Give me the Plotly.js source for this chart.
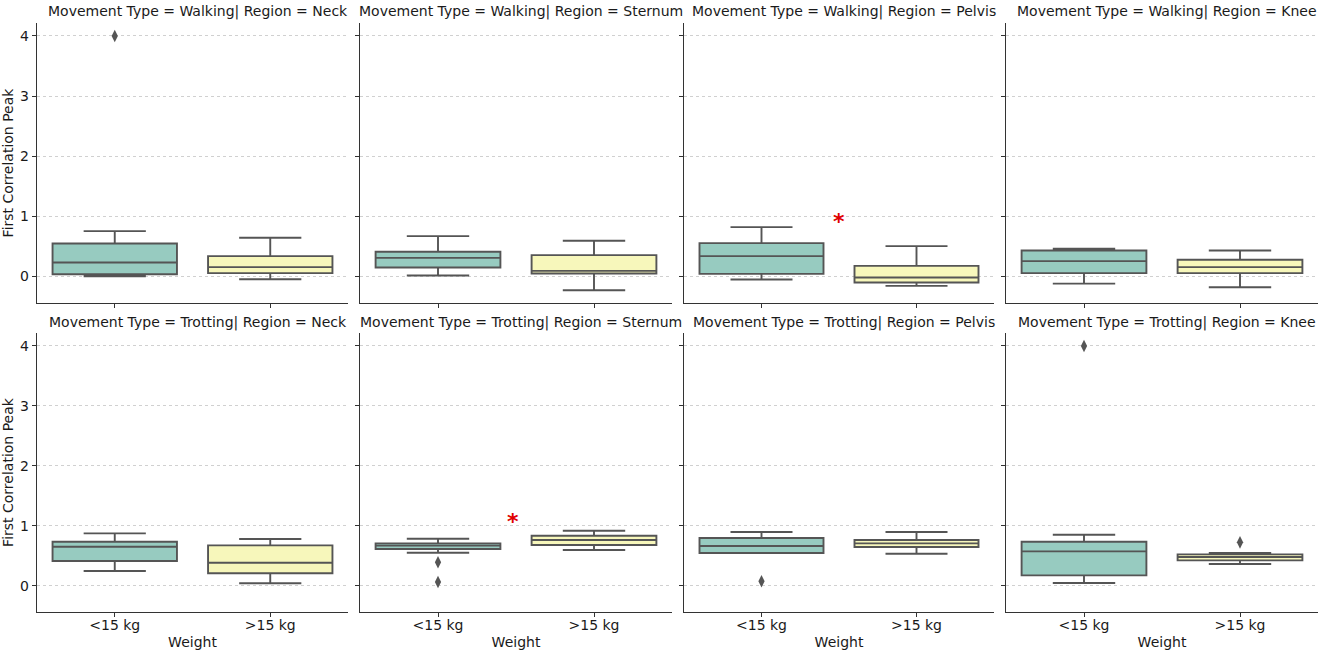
<!DOCTYPE html>
<html>
<head>
<meta charset="utf-8">
<script src="https://cdn.plot.ly/plotly-3.0.1.min.js"></script>
<style>html,body{margin:0;padding:0;background:#fff;}#chart{width:1325px;height:653px;}</style>
</head>
<body>
<div id="chart"></div>
<script>
// ---- data ----
const weights = ['<15 kg', '>15 kg'];
const movements = ['Walking', 'Trotting'];
const regions = ['Neck', 'Sternum', 'Pelvis', 'Knee'];
// panel order: Walking Neck, Sternum, Pelvis, Knee, Trotting Neck, Sternum, Pelvis, Knee
const lightLo  = [0.005, 0.017, -0.05, -0.117, 0.244, 0.55, 0.544, 0.044];
const lightQ1  = [0.039, 0.15, 0.044, 0.056, 0.411, 0.611, 0.544, 0.172];
const lightMed = [0.233, 0.311, 0.339, 0.256, 0.65, 0.667, 0.661, 0.572];
const lightQ3  = [0.55, 0.411, 0.556, 0.433, 0.733, 0.706, 0.794, 0.733];
const lightHi  = [0.756, 0.672, 0.822, 0.461, 0.872, 0.783, 0.894, 0.85];
const heavyLo  = [-0.044, -0.228, -0.156, -0.178, 0.039, 0.594, 0.533, 0.361];
const heavyQ1  = [0.056, 0.05, -0.1, 0.056, 0.206, 0.678, 0.644, 0.422];
const heavyMed = [0.156, 0.094, -0.017, 0.156, 0.383, 0.761, 0.706, 0.478];
const heavyQ3  = [0.339, 0.356, 0.178, 0.278, 0.672, 0.833, 0.761, 0.522];
const heavyHi  = [0.644, 0.594, 0.506, 0.433, 0.778, 0.917, 0.894, 0.544];
const lightOutliers = [[4.0], [], [], [], [], [0.389, 0.061], [0.072], [4.0]];
const heavyOutliers = [[], [], [], [], [], [], [], [0.722]];
const starPanels = [2, 5];
const starX = [0.5, 0.48];
const starY = [1.0, 1.15];
const yTicks = [0, 1, 2, 3, 4];

// ---- styling ----
const FONT = 'DejaVu Sans, sans-serif';
const TXT = '#1a1a1a';
const FS = 14;
const lightFill = '#97cbc0';
const heavyFill = '#f7f7bb';
const boxLine = '#555555';
const W = 1325, H = 653;
const mL = 37, mR = 7, mT = 23, mB = 41;
const pw = W - mL - mR, ph = H - mT - mB;
const xPix = [[37, 348], [360, 672], [684, 994], [1006, 1318]];
const yPix = [[23, 303], [333, 612]];

const traces = [];
const layout = {
  width: W, height: H,
  margin: {l: mL, r: mR, t: mT, b: mB},
  paper_bgcolor: '#fff', plot_bgcolor: '#fff',
  showlegend: false,
  font: {family: FONT, size: FS, color: TXT},
  annotations: []
};

for (let m = 0; m < movements.length; m++) {
  for (let r = 0; r < regions.length; r++) {
    const p = m * regions.length + r;
    const n = p + 1;
    const xa = 'x' + (n === 1 ? '' : n), ya = 'y' + (n === 1 ? '' : n);
    const xd = [(xPix[r][0] - mL) / pw, (xPix[r][1] - mL) / pw];
    const yd = [(H - mB - yPix[m][1]) / ph, (H - mB - yPix[m][0]) / ph];
    layout['xaxis' + (n === 1 ? '' : n)] = {
      domain: xd, anchor: ya, range: [-0.5, 1.5],
      tickvals: [0, 1], ticktext: weights,
      showticklabels: m === 1, ticklabelstandoff: -4,
      ticks: 'outside', ticklen: 4, tickwidth: 1, tickcolor: '#333',
      showline: true, linecolor: '#333', linewidth: 1.3,
      showgrid: false, zeroline: false, fixedrange: true,
      tickfont: {family: FONT, size: FS, color: TXT},
      title: m === 1 ? {text: 'Weight', font: {family: FONT, size: FS, color: TXT}, standoff: 5} : {text: ''}
    };
    layout['yaxis' + (n === 1 ? '' : n)] = {
      domain: yd, anchor: xa, range: [-0.44, 4.216],
      tickvals: yTicks, ticktext: yTicks.map(String),
      showticklabels: r === 0,
      ticks: 'outside', ticklen: 4, tickwidth: 1, tickcolor: '#333',
      showline: true, linecolor: '#333', linewidth: 1.3,
      showgrid: true, gridcolor: '#c4c4c4', gridwidth: 0.8, griddash: 'dot',
      zeroline: false, fixedrange: true,
      tickfont: {family: FONT, size: FS, color: TXT},
      title: r === 0 ? {text: 'First Correlation Peak', font: {family: FONT, size: FS, color: TXT}, standoff: 4} : {text: ''}
    };
    const common = {type: 'box', xaxis: xa, yaxis: ya, width: 0.8, whiskerwidth: 0.5,
      boxpoints: false, hoverinfo: 'skip', line: {color: boxLine, width: 1.9}};
    traces.push(Object.assign({}, common, {
      x: [0], q1: [lightQ1[p]], median: [lightMed[p]], q3: [lightQ3[p]],
      lowerfence: [lightLo[p]], upperfence: [lightHi[p]], fillcolor: lightFill
    }));
    traces.push(Object.assign({}, common, {
      x: [1], q1: [heavyQ1[p]], median: [heavyMed[p]], q3: [heavyQ3[p]],
      lowerfence: [heavyLo[p]], upperfence: [heavyHi[p]], fillcolor: heavyFill
    }));
    const ox = [], oy = [];
    lightOutliers[p].forEach(v => { ox.push(0); oy.push(v); });
    heavyOutliers[p].forEach(v => { ox.push(1); oy.push(v); });
    if (ox.length) {
      traces.push({type: 'scatter', mode: 'markers', x: ox, y: oy, xaxis: xa, yaxis: ya,
        hoverinfo: 'skip', cliponaxis: false,
        marker: {symbol: 'diamond-tall', size: 9, color: boxLine, line: {width: 0}}});
    }
    // facet title
    const cx = (xd[0] + xd[1]) / 2;
    const ty = (H - mB - (yPix[m][0] - 11)) / ph;
    layout.annotations.push({
      xref: 'paper', yref: 'paper', x: cx, y: ty, xanchor: 'center', yanchor: 'middle',
      xshift: 5, showarrow: false,
      text: 'Movement Type = ' + movements[m] + '| Region = ' + regions[r],
      font: {family: FONT, size: FS, color: TXT}
    });
  }
}

starPanels.forEach((p, i) => {
  const n = p + 1;
  layout.annotations.push({
    xref: 'x' + n, yref: 'y' + n, x: starX[i], y: starY[i],
    xanchor: 'center', yanchor: 'middle', yshift: -5, showarrow: false,
    text: '<b>*</b>', font: {family: FONT, size: 22, color: '#e00000'}
  });
});

Plotly.newPlot('chart', traces, layout, {staticPlot: true, displayModeBar: false});
</script>
</body>
</html>
